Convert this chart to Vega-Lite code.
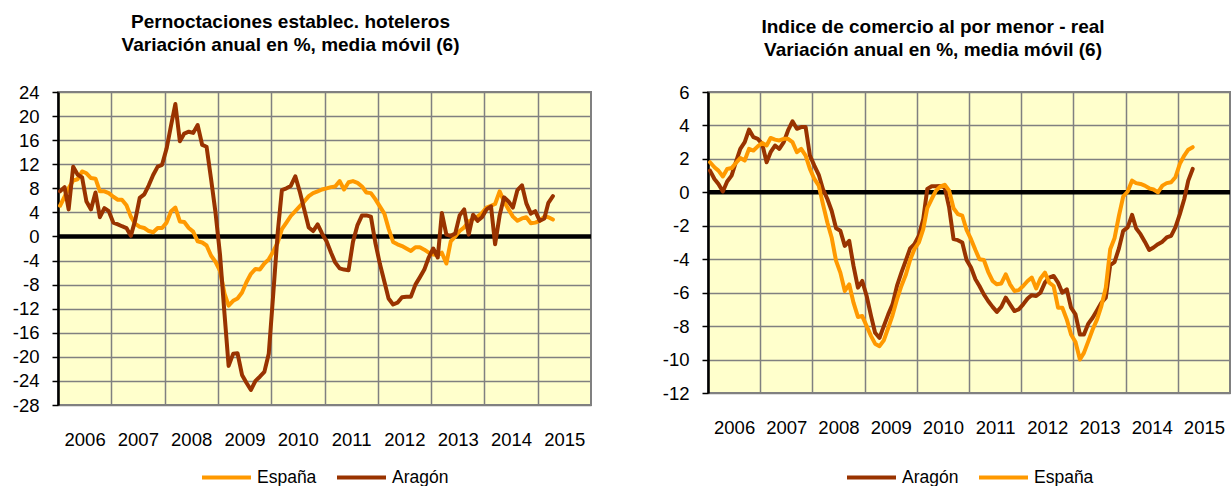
{
  "$schema": "https://vega.github.io/schema/vega-lite/v6.json",
  "padding": {"left": 11, "top": 12, "right": 0, "bottom": 0},
  "background": "white",
  "spacing": 66,
  "resolve": {"scale": {"color": "independent"}, "legend": {"color": "independent"}},
  "datasets": {
    "hoteles": [
      {"mes":"2006-01-15","España":5.1,"Aragón":7.5},
      {"mes":"2006-02-15","España":6.6,"Aragón":8.2},
      {"mes":"2006-03-15","España":8.0,"Aragón":4.5},
      {"mes":"2006-04-15","España":9.3,"Aragón":11.6},
      {"mes":"2006-05-15","España":9.5,"Aragón":10.3},
      {"mes":"2006-06-15","España":10.8,"Aragón":9.8},
      {"mes":"2006-07-15","España":10.5,"Aragón":5.8},
      {"mes":"2006-08-15","España":9.7,"Aragón":4.5},
      {"mes":"2006-09-15","España":9.6,"Aragón":7.3},
      {"mes":"2006-10-15","España":7.5,"Aragón":3.2},
      {"mes":"2006-11-15","España":7.5,"Aragón":4.7},
      {"mes":"2006-12-15","España":7.2,"Aragón":4.2},
      {"mes":"2007-01-15","España":6.6,"Aragón":2.3},
      {"mes":"2007-02-15","España":6.1,"Aragón":2.0},
      {"mes":"2007-03-15","España":6.1,"Aragón":1.7},
      {"mes":"2007-04-15","España":5.2,"Aragón":1.4},
      {"mes":"2007-05-15","España":3.3,"Aragón":0.1},
      {"mes":"2007-06-15","España":2.1,"Aragón":2.8},
      {"mes":"2007-07-15","España":1.6,"Aragón":6.4},
      {"mes":"2007-08-15","España":1.4,"Aragón":7.0},
      {"mes":"2007-09-15","España":0.9,"Aragón":8.5},
      {"mes":"2007-10-15","España":0.7,"Aragón":10.2},
      {"mes":"2007-11-15","España":1.4,"Aragón":11.6},
      {"mes":"2007-12-15","España":1.4,"Aragón":11.9},
      {"mes":"2008-01-15","España":2.3,"Aragón":14.6},
      {"mes":"2008-02-15","España":4.2,"Aragón":18.5},
      {"mes":"2008-03-15","España":4.8,"Aragón":22.0},
      {"mes":"2008-04-15","España":2.5,"Aragón":15.8},
      {"mes":"2008-05-15","España":2.4,"Aragón":17.1},
      {"mes":"2008-06-15","España":1.4,"Aragón":17.4},
      {"mes":"2008-07-15","España":0.8,"Aragón":17.2},
      {"mes":"2008-08-15","España":-0.8,"Aragón":18.5},
      {"mes":"2008-09-15","España":-1.0,"Aragón":15.2},
      {"mes":"2008-10-15","España":-1.5,"Aragón":14.9},
      {"mes":"2008-11-15","España":-3.2,"Aragón":9.5},
      {"mes":"2008-12-15","España":-4.2,"Aragón":4.0},
      {"mes":"2009-01-15","España":-5.7,"Aragón":-3.0},
      {"mes":"2009-02-15","España":-9.5,"Aragón":-12.9},
      {"mes":"2009-03-15","España":-11.5,"Aragón":-21.5},
      {"mes":"2009-04-15","España":-10.7,"Aragón":-19.5},
      {"mes":"2009-05-15","España":-10.3,"Aragón":-19.4},
      {"mes":"2009-06-15","España":-9.3,"Aragón":-23.0},
      {"mes":"2009-07-15","España":-7.6,"Aragón":-24.3},
      {"mes":"2009-08-15","España":-6.2,"Aragón":-25.5},
      {"mes":"2009-09-15","España":-5.4,"Aragón":-24.0},
      {"mes":"2009-10-15","España":-5.5,"Aragón":-23.3},
      {"mes":"2009-11-15","España":-4.5,"Aragón":-22.5},
      {"mes":"2009-12-15","España":-3.8,"Aragón":-19.5},
      {"mes":"2010-01-15","España":-2.5,"Aragón":-9.5},
      {"mes":"2010-02-15","España":-1.0,"Aragón":0.8},
      {"mes":"2010-03-15","España":1.2,"Aragón":7.7},
      {"mes":"2010-04-15","España":2.3,"Aragón":8.0},
      {"mes":"2010-05-15","España":3.4,"Aragón":8.4},
      {"mes":"2010-06-15","España":4.2,"Aragón":10.0},
      {"mes":"2010-07-15","España":5.0,"Aragón":7.5},
      {"mes":"2010-08-15","España":5.8,"Aragón":4.5},
      {"mes":"2010-09-15","España":6.7,"Aragón":1.5},
      {"mes":"2010-10-15","España":7.2,"Aragón":0.9},
      {"mes":"2010-11-15","España":7.5,"Aragón":2.0},
      {"mes":"2010-12-15","España":7.8,"Aragón":0.5},
      {"mes":"2011-01-15","España":8.0,"Aragón":-0.8},
      {"mes":"2011-02-15","España":8.2,"Aragón":-2.7},
      {"mes":"2011-03-15","España":8.3,"Aragón":-4.3},
      {"mes":"2011-04-15","España":9.2,"Aragón":-5.3},
      {"mes":"2011-05-15","España":7.8,"Aragón":-5.5},
      {"mes":"2011-06-15","España":9.0,"Aragón":-5.6},
      {"mes":"2011-07-15","España":9.2,"Aragón":-0.9},
      {"mes":"2011-08-15","España":8.9,"Aragón":1.9},
      {"mes":"2011-09-15","España":8.3,"Aragón":3.5},
      {"mes":"2011-10-15","España":7.3,"Aragón":3.5},
      {"mes":"2011-11-15","España":7.2,"Aragón":3.3},
      {"mes":"2011-12-15","España":6.2,"Aragón":-1.0},
      {"mes":"2012-01-15","España":5.0,"Aragón":-4.5},
      {"mes":"2012-02-15","España":3.8,"Aragón":-7.5},
      {"mes":"2012-03-15","España":1.3,"Aragón":-10.3},
      {"mes":"2012-04-15","España":-0.9,"Aragón":-11.3},
      {"mes":"2012-05-15","España":-1.3,"Aragón":-11.0},
      {"mes":"2012-06-15","España":-1.6,"Aragón":-10.1},
      {"mes":"2012-07-15","España":-2.0,"Aragón":-10.0},
      {"mes":"2012-08-15","España":-2.4,"Aragón":-10.0},
      {"mes":"2012-09-15","España":-1.8,"Aragón":-8.0},
      {"mes":"2012-10-15","España":-1.8,"Aragón":-6.8},
      {"mes":"2012-11-15","España":-2.2,"Aragón":-5.5},
      {"mes":"2012-12-15","España":-2.7,"Aragón":-3.5},
      {"mes":"2013-01-15","España":-3.0,"Aragón":-2.0},
      {"mes":"2013-02-15","España":-3.1,"Aragón":-3.5},
      {"mes":"2013-03-15","España":-2.7,"Aragón":3.9},
      {"mes":"2013-04-15","España":-4.5,"Aragón":0.3},
      {"mes":"2013-05-15","España":-0.8,"Aragón":0.1},
      {"mes":"2013-06-15","España":0.0,"Aragón":0.5},
      {"mes":"2013-07-15","España":0.9,"Aragón":3.5},
      {"mes":"2013-08-15","España":1.5,"Aragón":4.5},
      {"mes":"2013-09-15","España":2.5,"Aragón":0.3},
      {"mes":"2013-10-15","España":2.9,"Aragón":3.6},
      {"mes":"2013-11-15","España":3.3,"Aragón":2.6},
      {"mes":"2013-12-15","España":3.9,"Aragón":3.2},
      {"mes":"2014-01-15","España":4.8,"Aragón":4.5},
      {"mes":"2014-02-15","España":5.1,"Aragón":5.0},
      {"mes":"2014-03-15","España":5.4,"Aragón":-1.3},
      {"mes":"2014-04-15","España":7.5,"Aragón":3.5},
      {"mes":"2014-05-15","España":5.8,"Aragón":6.5},
      {"mes":"2014-06-15","España":4.5,"Aragón":5.8},
      {"mes":"2014-07-15","España":3.3,"Aragón":4.8},
      {"mes":"2014-08-15","España":2.6,"Aragón":7.7},
      {"mes":"2014-09-15","España":3.0,"Aragón":8.5},
      {"mes":"2014-10-15","España":3.2,"Aragón":5.5},
      {"mes":"2014-11-15","España":2.2,"Aragón":3.8},
      {"mes":"2014-12-15","España":2.3,"Aragón":4.2},
      {"mes":"2015-01-15","España":2.6,"Aragón":2.6},
      {"mes":"2015-02-15","España":3.3,"Aragón":3.0},
      {"mes":"2015-03-15","España":3.2,"Aragón":5.6},
      {"mes":"2015-04-15","España":2.8,"Aragón":6.7}
    ],
    "comercio": [
      {"mes":"2006-01-15","España":1.8,"Aragón":1.3},
      {"mes":"2006-02-15","España":1.5,"Aragón":0.8},
      {"mes":"2006-03-15","España":1.3,"Aragón":0.5},
      {"mes":"2006-04-15","España":0.95,"Aragón":0.05},
      {"mes":"2006-05-15","España":1.4,"Aragón":0.65},
      {"mes":"2006-06-15","España":1.45,"Aragón":1.0},
      {"mes":"2006-07-15","España":1.75,"Aragón":1.8},
      {"mes":"2006-08-15","España":2.05,"Aragón":2.6},
      {"mes":"2006-09-15","España":1.9,"Aragón":3.0},
      {"mes":"2006-10-15","España":2.6,"Aragón":3.75},
      {"mes":"2006-11-15","España":2.5,"Aragón":3.3},
      {"mes":"2006-12-15","España":2.75,"Aragón":3.2},
      {"mes":"2007-01-15","España":2.95,"Aragón":2.9},
      {"mes":"2007-02-15","España":2.8,"Aragón":1.8},
      {"mes":"2007-03-15","España":3.25,"Aragón":2.4},
      {"mes":"2007-04-15","España":3.15,"Aragón":2.8},
      {"mes":"2007-05-15","España":3.1,"Aragón":2.6},
      {"mes":"2007-06-15","España":3.2,"Aragón":3.0},
      {"mes":"2007-07-15","España":3.2,"Aragón":3.7},
      {"mes":"2007-08-15","España":3.0,"Aragón":4.25},
      {"mes":"2007-09-15","España":2.4,"Aragón":3.8},
      {"mes":"2007-10-15","España":2.6,"Aragón":3.9},
      {"mes":"2007-11-15","España":2.2,"Aragón":3.9},
      {"mes":"2007-12-15","España":1.4,"Aragón":2.2},
      {"mes":"2008-01-15","España":0.8,"Aragón":1.6},
      {"mes":"2008-02-15","España":0.4,"Aragón":1.05},
      {"mes":"2008-03-15","España":-0.7,"Aragón":0.2},
      {"mes":"2008-04-15","España":-1.8,"Aragón":-0.4},
      {"mes":"2008-05-15","España":-2.7,"Aragón":-1.1},
      {"mes":"2008-06-15","España":-4.1,"Aragón":-2.15},
      {"mes":"2008-07-15","España":-4.8,"Aragón":-2.3},
      {"mes":"2008-08-15","España":-5.9,"Aragón":-3.2},
      {"mes":"2008-09-15","España":-5.5,"Aragón":-2.9},
      {"mes":"2008-10-15","España":-6.6,"Aragón":-4.4},
      {"mes":"2008-11-15","España":-7.45,"Aragón":-5.7},
      {"mes":"2008-12-15","España":-7.4,"Aragón":-5.3},
      {"mes":"2009-01-15","España":-8.0,"Aragón":-6.2},
      {"mes":"2009-02-15","España":-8.6,"Aragón":-7.4},
      {"mes":"2009-03-15","España":-9.05,"Aragón":-8.4},
      {"mes":"2009-04-15","España":-9.2,"Aragón":-8.7},
      {"mes":"2009-05-15","España":-8.85,"Aragón":-8.0},
      {"mes":"2009-06-15","España":-8.1,"Aragón":-7.3},
      {"mes":"2009-07-15","España":-7.35,"Aragón":-6.7},
      {"mes":"2009-08-15","España":-6.4,"Aragón":-5.6},
      {"mes":"2009-09-15","España":-5.6,"Aragón":-4.8},
      {"mes":"2009-10-15","España":-4.95,"Aragón":-4.1},
      {"mes":"2009-11-15","España":-4.05,"Aragón":-3.35},
      {"mes":"2009-12-15","España":-3.4,"Aragón":-3.1},
      {"mes":"2010-01-15","España":-3.0,"Aragón":-2.6},
      {"mes":"2010-02-15","España":-2.2,"Aragón":-1.6},
      {"mes":"2010-03-15","España":-0.95,"Aragón":0.2},
      {"mes":"2010-04-15","España":-0.4,"Aragón":0.36},
      {"mes":"2010-05-15","España":0.1,"Aragón":0.36},
      {"mes":"2010-06-15","España":0.35,"Aragón":0.38},
      {"mes":"2010-07-15","España":0.45,"Aragón":0.3},
      {"mes":"2010-08-15","España":0.1,"Aragón":-0.9},
      {"mes":"2010-09-15","España":-0.95,"Aragón":-2.8},
      {"mes":"2010-10-15","España":-1.3,"Aragón":-2.86},
      {"mes":"2010-11-15","España":-1.4,"Aragón":-3.0},
      {"mes":"2010-12-15","España":-2.25,"Aragón":-4.05},
      {"mes":"2011-01-15","España":-2.8,"Aragón":-4.5},
      {"mes":"2011-02-15","España":-3.45,"Aragón":-5.2},
      {"mes":"2011-03-15","España":-4.0,"Aragón":-5.6},
      {"mes":"2011-04-15","España":-4.05,"Aragón":-6.1},
      {"mes":"2011-05-15","España":-4.75,"Aragón":-6.5},
      {"mes":"2011-06-15","España":-5.3,"Aragón":-6.85},
      {"mes":"2011-07-15","España":-5.5,"Aragón":-7.15},
      {"mes":"2011-08-15","España":-5.45,"Aragón":-6.85},
      {"mes":"2011-09-15","España":-4.9,"Aragón":-6.3},
      {"mes":"2011-10-15","España":-5.5,"Aragón":-6.7},
      {"mes":"2011-11-15","España":-5.9,"Aragón":-7.1},
      {"mes":"2011-12-15","España":-5.85,"Aragón":-7.0},
      {"mes":"2012-01-15","España":-5.6,"Aragón":-6.7},
      {"mes":"2012-02-15","España":-5.3,"Aragón":-6.35},
      {"mes":"2012-03-15","España":-5.1,"Aragón":-6.15},
      {"mes":"2012-04-15","España":-5.75,"Aragón":-6.2},
      {"mes":"2012-05-15","España":-5.15,"Aragón":-6.0},
      {"mes":"2012-06-15","España":-4.8,"Aragón":-5.4},
      {"mes":"2012-07-15","España":-5.4,"Aragón":-5.1},
      {"mes":"2012-08-15","España":-5.6,"Aragón":-5.0},
      {"mes":"2012-09-15","España":-6.9,"Aragón":-5.4},
      {"mes":"2012-10-15","España":-6.9,"Aragón":-6.0},
      {"mes":"2012-11-15","España":-7.6,"Aragón":-5.8},
      {"mes":"2012-12-15","España":-8.5,"Aragón":-6.9},
      {"mes":"2013-01-15","España":-8.95,"Aragón":-7.3},
      {"mes":"2013-02-15","España":-10.0,"Aragón":-8.5},
      {"mes":"2013-03-15","España":-9.6,"Aragón":-8.5},
      {"mes":"2013-04-15","España":-8.9,"Aragón":-7.85},
      {"mes":"2013-05-15","España":-8.2,"Aragón":-7.5},
      {"mes":"2013-06-15","España":-7.6,"Aragón":-7.05},
      {"mes":"2013-07-15","España":-6.8,"Aragón":-6.6},
      {"mes":"2013-08-15","España":-5.7,"Aragón":-6.3},
      {"mes":"2013-09-15","España":-3.4,"Aragón":-4.35},
      {"mes":"2013-10-15","España":-2.75,"Aragón":-4.17},
      {"mes":"2013-11-15","España":-1.4,"Aragón":-3.35},
      {"mes":"2013-12-15","España":-0.25,"Aragón":-2.3},
      {"mes":"2014-01-15","España":0.05,"Aragón":-2.1},
      {"mes":"2014-02-15","España":0.7,"Aragón":-1.35},
      {"mes":"2014-03-15","España":0.55,"Aragón":-2.15},
      {"mes":"2014-04-15","España":0.5,"Aragón":-2.5},
      {"mes":"2014-05-15","España":0.4,"Aragón":-2.95},
      {"mes":"2014-06-15","España":0.24,"Aragón":-3.45},
      {"mes":"2014-07-15","España":0.17,"Aragón":-3.3},
      {"mes":"2014-08-15","España":0.0,"Aragón":-3.1},
      {"mes":"2014-09-15","España":0.4,"Aragón":-2.95},
      {"mes":"2014-10-15","España":0.55,"Aragón":-2.7},
      {"mes":"2014-11-15","España":0.6,"Aragón":-2.6},
      {"mes":"2014-12-15","España":0.9,"Aragón":-2.1},
      {"mes":"2015-01-15","España":1.7,"Aragón":-1.3},
      {"mes":"2015-02-15","España":2.2,"Aragón":-0.4},
      {"mes":"2015-03-15","España":2.55,"Aragón":0.7},
      {"mes":"2015-04-15","España":2.7,"Aragón":1.4}
    ]
  },
  "config": {
    "font": "Liberation Sans",
    "view": {"fill": "#FFFFCC", "stroke": "#808080", "strokeWidth": 2},
    "axis": {
      "labelFont": "Liberation Sans",
      "labelFontSize": 18.5,
      "labelColor": "black",
      "labelOverlap": false,
      "title": null,
      "gridColor": "#808080",
      "gridWidth": 1.5,
      "gridOpacity": 1
    },
    "axisY": {
      "labelOverlap": false,
      "labelBound": false,
      "labelFlush": false,
      "labelExpr": "'' + datum.value",
      "domainColor": "black",
      "domainWidth": 2.5,
      "tickColor": "black",
      "tickSize": 6,
      "tickWidth": 1.5,
      "labelPadding": 13,
      "grid": true
    },
    "axisQuantitative": {"labelOverlap": false},
    "title": {
      "font": "Liberation Sans",
      "fontSize": 19,
      "fontWeight": "bold",
      "color": "black",
      "lineHeight": 23,
      "anchor": "middle",
      "frame": "group"
    },
    "legend": {
      "labelFont": "Liberation Sans",
      "labelFontSize": 17.5,
      "labelColor": "black",
      "symbolType": "stroke",
      "symbolSize": 2401,
      "symbolStrokeWidth": 4,
      "columnPadding": 12,
      "labelOffset": 4,
      "layout": {"bottom": {"anchor": "middle"}}
    }
  },
  "hconcat": [
    {
      "width": 533,
      "height": 313,
      "title": {"text": ["Pernoctaciones establec. hoteleros", "Variación anual en %, media móvil (6)"], "dx": -34, "offset": 28},
      "layer": [
        {
          "data": {"values": [{}]},
          "mark": {"type": "rule", "color": "black", "strokeWidth": 4.5},
          "encoding": {
            "y": {"datum": 0, "type": "quantitative", "axis": {"values": [-28, -24, -20, -16, -12, -8, -4, 0, 4, 8, 12, 16, 20, 24], "labelOverlap": false}}
          }
        },
        {
          "data": {"name": "hoteles"},
          "transform": [{"fold": ["España", "Aragón"], "as": ["serie", "valor"]}],
          "mark": {"type": "line", "strokeWidth": 4, "strokeJoin": "round", "strokeCap": "round"},
          "encoding": {
            "x": {
              "field": "mes", "type": "temporal",
              "scale": {"domain": [{"year": 2006, "month": 1, "date": 1}, {"year": 2016, "month": 1, "date": 1}]},
              "axis": {
                "values": [{"year": 2006, "month": 1, "date": 1}, {"year": 2007, "month": 1, "date": 1}, {"year": 2008, "month": 1, "date": 1}, {"year": 2009, "month": 1, "date": 1}, {"year": 2010, "month": 1, "date": 1}, {"year": 2011, "month": 1, "date": 1}, {"year": 2012, "month": 1, "date": 1}, {"year": 2013, "month": 1, "date": 1}, {"year": 2014, "month": 1, "date": 1}, {"year": 2015, "month": 1, "date": 1}],
                "format": "%Y", "labelOffset": 26.6, "domain": false, "ticks": false, "tickSize": 0,
                "grid": true, "labelPadding": 25, "labelBound": false, "labelOverlap": false, "labelFlush": false
              }
            },
            "y": {
              "field": "valor", "type": "quantitative",
              "scale": {"domain": [-28, 24], "nice": false, "zero": false},
              "axis": {"values": [-28, -24, -20, -16, -12, -8, -4, 0, 4, 8, 12, 16, 20, 24], "labelOverlap": false}
            },
            "color": {
              "field": "serie", "type": "nominal",
              "scale": {"domain": ["España", "Aragón"], "range": ["#FF9900", "#993300"]},
              "legend": {"title": null, "orient": "bottom", "direction": "horizontal", "offset": 2}
            }
          }
        }
      ]
    },
    {
      "width": 522,
      "height": 301,
      "title": {"text": ["Indice de comercio al por menor - real", "Variación anual en %, media móvil (6)"], "dx": -36, "offset": 23},
      "layer": [
        {
          "data": {"values": [{}]},
          "mark": {"type": "rule", "color": "black", "strokeWidth": 4.5},
          "encoding": {
            "y": {"datum": 0, "type": "quantitative", "axis": {"values": [-12, -10, -8, -6, -4, -2, 0, 2, 4, 6], "labelOverlap": false}}
          }
        },
        {
          "data": {"name": "comercio"},
          "transform": [{"fold": ["Aragón", "España"], "as": ["serie", "valor"]}],
          "mark": {"type": "line", "strokeWidth": 4, "strokeJoin": "round", "strokeCap": "round"},
          "encoding": {
            "x": {
              "field": "mes", "type": "temporal",
              "scale": {"domain": [{"year": 2006, "month": 1, "date": 1}, {"year": 2016, "month": 1, "date": 1}]},
              "axis": {
                "values": [{"year": 2006, "month": 1, "date": 1}, {"year": 2007, "month": 1, "date": 1}, {"year": 2008, "month": 1, "date": 1}, {"year": 2009, "month": 1, "date": 1}, {"year": 2010, "month": 1, "date": 1}, {"year": 2011, "month": 1, "date": 1}, {"year": 2012, "month": 1, "date": 1}, {"year": 2013, "month": 1, "date": 1}, {"year": 2014, "month": 1, "date": 1}, {"year": 2015, "month": 1, "date": 1}],
                "format": "%Y", "labelOffset": 26.1, "domain": false, "ticks": false, "tickSize": 0,
                "grid": true, "labelPadding": 25, "labelBound": false, "labelOverlap": false, "labelFlush": false
              }
            },
            "y": {
              "field": "valor", "type": "quantitative",
              "scale": {"domain": [-12, 6], "nice": false, "zero": false},
              "axis": {"values": [-12, -10, -8, -6, -4, -2, 0, 2, 4, 6], "labelOverlap": false}
            },
            "color": {
              "field": "serie", "type": "nominal",
              "scale": {"domain": ["Aragón", "España"], "range": ["#993300", "#FF9900"]},
              "legend": {"title": null, "orient": "bottom", "direction": "horizontal", "offset": 14}
            }
          }
        }
      ]
    }
  ]
}
